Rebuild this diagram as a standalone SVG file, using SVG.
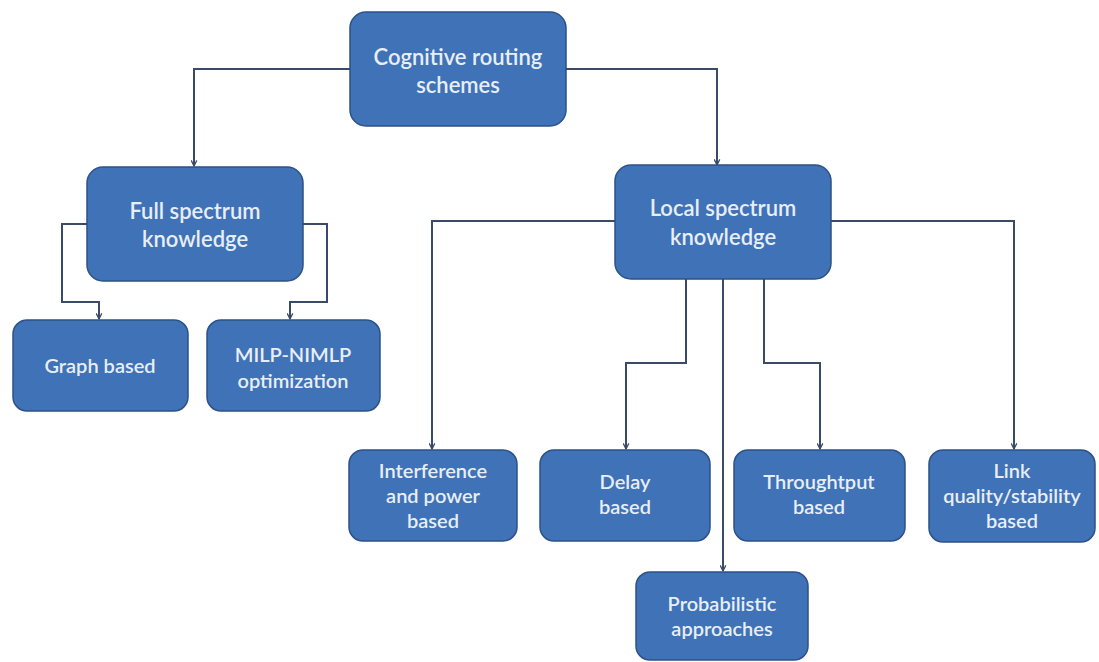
<svg xmlns="http://www.w3.org/2000/svg" width="1099" height="662" viewBox="0 0 1099 662">
  <style>
    .box { fill: #3f72b6; stroke: #2c5288; stroke-width: 1.5; }
    .lbl { fill: #e8eef6; font-family: Lato, "Liberation Sans", sans-serif; font-weight: 600; text-anchor: middle; }
    .big { font-size: 22px; }
    .small { font-size: 20px; }
    .wire { fill: none; stroke: #3a4a68; stroke-width: 2; marker-end: url(#arrow); }
  </style>
  <defs>
    <marker id="arrow" viewBox="0 0 10 10" refX="9" refY="5" markerWidth="7" markerHeight="7" orient="auto" markerUnits="userSpaceOnUse">
      <path d="M1,1 L9,5 L1,9" fill="none" stroke="#3a4a68" stroke-width="1.8"/>
    </marker>
  </defs>

  <!-- connectors -->
  <g id="connectors">
    <path class="wire" d="M350,69 H194 V166"/>
    <path class="wire" d="M566,69 H717 V165"/>
    <path class="wire" d="M87,224 H62 V302 H99 V319"/>
    <path class="wire" d="M303,224 H327 V302 H290 V319"/>
    <path class="wire" d="M615,221 H432 V449"/>
    <path class="wire" d="M831,221 H1014 V449"/>
    <path class="wire" d="M686,279 V363 H626 V449"/>
    <path class="wire" d="M764,279 V363 H820 V449"/>
    <path class="wire" d="M723,279 V571"/>
  </g>

  <g id="n-root">
    <rect class="box" x="350" y="12" width="216" height="114" rx="16"/>
    <text class="lbl big" x="458" y="65">Cognitive routing</text>
    <text class="lbl big" x="458" y="93">schemes</text>
  </g>

  <g id="n-full">
    <rect class="box" x="87" y="167" width="216" height="114" rx="16"/>
    <text class="lbl big" x="195" y="219">Full spectrum</text>
    <text class="lbl big" x="195" y="247">knowledge</text>
  </g>

  <g id="n-local">
    <rect class="box" x="615" y="165" width="216" height="114" rx="16"/>
    <text class="lbl big" x="723" y="216">Local spectrum</text>
    <text class="lbl big" x="723" y="245">knowledge</text>
  </g>

  <g id="n-graph">
    <rect class="box" x="13" y="320" width="175" height="91" rx="14"/>
    <text class="lbl small" x="100" y="373">Graph based</text>
  </g>

  <g id="n-milp">
    <rect class="box" x="207" y="320" width="173" height="91" rx="14"/>
    <text class="lbl small" x="293" y="362">MILP-NIMLP</text>
    <text class="lbl small" x="293" y="388">optimization</text>
  </g>

  <g id="n-interference">
    <rect class="box" x="349" y="450" width="168" height="91" rx="14"/>
    <text class="lbl small" x="433" y="478">Interference</text>
    <text class="lbl small" x="433" y="503">and power</text>
    <text class="lbl small" x="433" y="528">based</text>
  </g>

  <g id="n-delay">
    <rect class="box" x="540" y="450" width="170" height="91" rx="14"/>
    <text class="lbl small" x="625" y="489">Delay</text>
    <text class="lbl small" x="625" y="514">based</text>
  </g>

  <g id="n-throughput">
    <rect class="box" x="734" y="450" width="171" height="91" rx="14"/>
    <text class="lbl small" x="819" y="489">Throughtput</text>
    <text class="lbl small" x="819" y="514">based</text>
  </g>

  <g id="n-link">
    <rect class="box" x="929" y="450" width="166" height="92" rx="14"/>
    <text class="lbl small" x="1012" y="478">Link</text>
    <text class="lbl small" x="1012" y="503">quality/stability</text>
    <text class="lbl small" x="1012" y="528">based</text>
  </g>

  <g id="n-prob">
    <rect class="box" x="636" y="572" width="172" height="88" rx="14"/>
    <text class="lbl small" x="722" y="611">Probabilistic</text>
    <text class="lbl small" x="722" y="636">approaches</text>
  </g>
</svg>
